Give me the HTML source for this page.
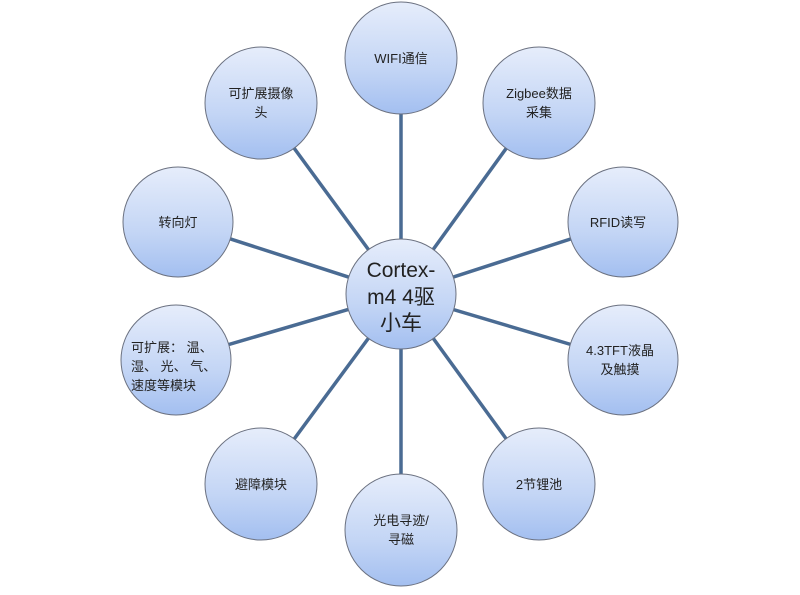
<!DOCTYPE html>
<html><head><meta charset="utf-8"><style>
html,body{margin:0;padding:0;background:#fff;}
svg{display:block;}
text{font-family:"Liberation Sans","Noto Sans CJK SC",sans-serif;fill:#222;text-anchor:middle;}
</style></head><body>
<svg width="800" height="595" viewBox="0 0 800 595" xmlns="http://www.w3.org/2000/svg">
<defs>
<linearGradient id="g" x1="0" y1="0" x2="0" y2="1">
<stop offset="0" stop-color="#e6edfb"/>
<stop offset="0.6" stop-color="#c3d5f5"/>
<stop offset="1" stop-color="#a3bff0"/>
</linearGradient>
</defs>
<g stroke="#4a6b93" stroke-width="3.5">
<line x1="401" y1="294" x2="401" y2="58"/>
<line x1="401" y1="294" x2="539" y2="103"/>
<line x1="401" y1="294" x2="623" y2="222"/>
<line x1="401" y1="294" x2="623" y2="360"/>
<line x1="401" y1="294" x2="539" y2="484"/>
<line x1="401" y1="294" x2="401" y2="530"/>
<line x1="401" y1="294" x2="261" y2="484"/>
<line x1="401" y1="294" x2="176" y2="360"/>
<line x1="401" y1="294" x2="178" y2="222"/>
<line x1="401" y1="294" x2="261" y2="103"/>
</g>
<g fill="url(#g)" stroke="#6b7180" stroke-width="1">
<circle cx="401" cy="58" r="56"/>
<circle cx="539" cy="103" r="56"/>
<circle cx="623" cy="222" r="55"/>
<circle cx="623" cy="360" r="55"/>
<circle cx="539" cy="484" r="56"/>
<circle cx="401" cy="530" r="56"/>
<circle cx="261" cy="484" r="56"/>
<circle cx="176" cy="360" r="55"/>
<circle cx="178" cy="222" r="55"/>
<circle cx="261" cy="103" r="56"/>
<circle cx="401" cy="294" r="55"/>
</g>
<g font-size="13">
<text x="401" y="63">WIFI通信</text>
<text x="539" y="98">Zigbee数据</text>
<text x="539" y="117">采集</text>
<text x="618" y="227">RFID读写</text>
<text x="620" y="355">4.3TFT液晶</text>
<text x="620" y="374">及触摸</text>
<text x="539" y="489">2节锂池</text>
<text x="401" y="525">光电寻迹/</text>
<text x="401" y="544">寻磁</text>
<text x="261" y="489">避障模块</text>
<text x="131" y="352" style="text-anchor:start">可扩展： 温、</text>
<text x="131" y="371" style="text-anchor:start">湿、 光、 气、</text>
<text x="131" y="390" style="text-anchor:start">速度等模块</text>
<text x="178" y="227">转向灯</text>
<text x="261" y="98">可扩展摄像</text>
<text x="261" y="117">头</text>
</g>
<g font-size="21">
<text x="401" y="277">Cortex-</text>
<text x="401" y="304">m4 4驱</text>
<text x="401" y="330">小车</text>
</g>
</svg>
</body></html>
